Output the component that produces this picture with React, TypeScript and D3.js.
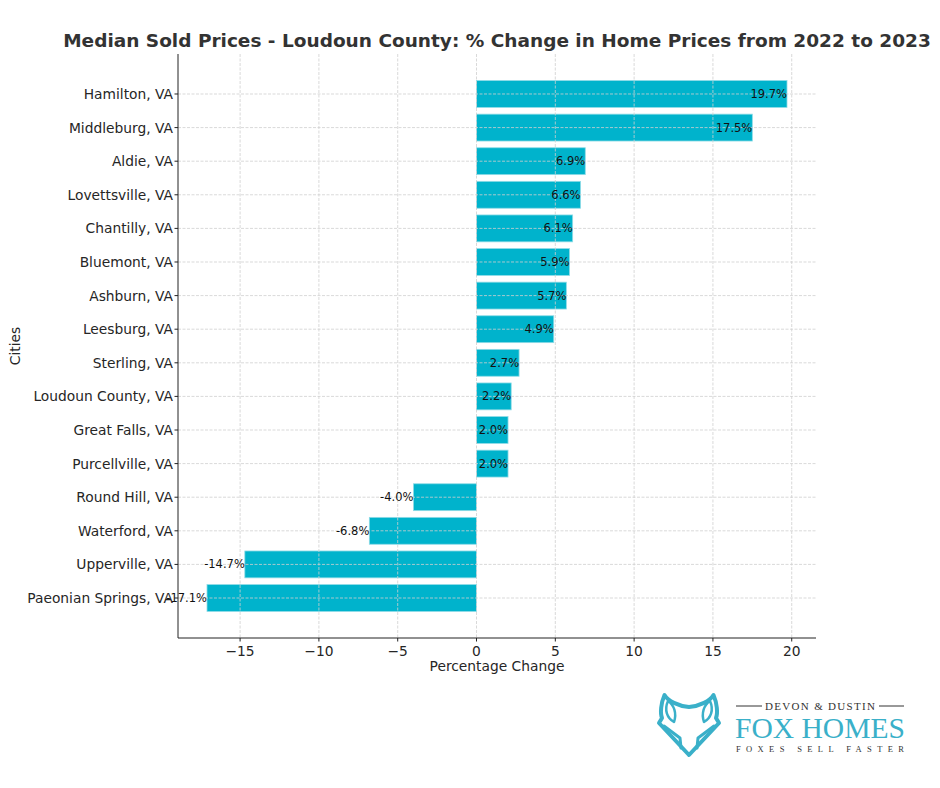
import React from "react";
import * as d3 from "d3";

const cities = [
  "Hamilton, VA", "Middleburg, VA", "Aldie, VA", "Lovettsville, VA", "Chantilly, VA",
  "Bluemont, VA", "Ashburn, VA", "Leesburg, VA", "Sterling, VA", "Loudoun County, VA",
  "Great Falls, VA", "Purcellville, VA", "Round Hill, VA", "Waterford, VA",
  "Upperville, VA", "Paeonian Springs, VA",
];
const changes = [19.7, 17.5, 6.9, 6.6, 6.1, 5.9, 5.7, 4.9, 2.7, 2.2, 2.0, 2.0, -4.0, -6.8, -14.7, -17.1];
const xTicks = [-15, -10, -5, 0, 5, 10, 15, 20];

const W = 940, H = 788;
const left = 178, right = 816, top = 54, bottom = 638;
const font = "'DejaVu Sans', sans-serif";

export default function App() {
  const minV = d3.min(changes)!, maxV = d3.max(changes)!;
  const pad = (maxV - minV) * 0.05;
  const x = d3.scaleLinear().domain([minV - pad, maxV + pad]).range([left, right]);
  const n = cities.length;
  const ypad = (n - 1 + 0.8) * 0.05;
  const y = d3.scaleLinear().domain([-0.4 - ypad, n - 1 + 0.4 + ypad]).range([top, bottom]);
  const barH = y(0.8) - y(0);
  const fmt = (v: number) => (v < 0 ? "\u2212" + Math.abs(v) : String(v));
  const gridStyle = { stroke: "#cfcfcf", strokeWidth: 0.8, strokeDasharray: "3,1.5" };
  const teal = "#3ab0c9";

  return (
    <svg width={W} height={H} style={{ position: "absolute", left: 0, top: 0, background: "#fff" }}>
      <rect width={W} height={H} fill="#fff" />
      <text x={497} y={47} textAnchor="middle" fontFamily={font} fontWeight="bold" fontSize={18.5} fill="#333">
        Median Sold Prices - Loudoun County: % Change in Home Prices from 2022 to 2023
      </text>
      {cities.map((c, i) => (
        <rect key={c} x={x(Math.min(0, changes[i]))} y={y(i) - barH / 2}
          width={Math.abs(x(changes[i]) - x(0))} height={barH}
          fill="#00b3cc" stroke="#8fdbe6" strokeWidth={0.8} />
      ))}
      {xTicks.map((t) => (
        <line key={"gx" + t} x1={x(t)} x2={x(t)} y1={top} y2={bottom} style={gridStyle} />
      ))}
      {cities.map((c, i) => (
        <line key={"gy" + c} x1={left} x2={right} y1={y(i)} y2={y(i)} style={gridStyle} />
      ))}
      {cities.map((c, i) => (
        <text key={"l" + c} x={x(changes[i])} y={y(i) + 4} textAnchor="end" fontFamily={font} fontSize={11.5} fill="#111">
          {changes[i].toFixed(1) + "%"}
        </text>
      ))}
      <line x1={left} x2={left} y1={top} y2={bottom} stroke="#222" strokeWidth={1} />
      <line x1={left} x2={right} y1={bottom} y2={bottom} stroke="#222" strokeWidth={1} />
      {cities.map((c, i) => (
        <g key={"yt" + c}>
          <line x1={left - 3.5} x2={left} y1={y(i)} y2={y(i)} stroke="#222" />
          <text x={left - 5} y={y(i) + 5} textAnchor="end" fontFamily={font} fontSize={13.8} fill="#262626">{c}</text>
        </g>
      ))}
      {xTicks.map((t) => (
        <g key={"xt" + t}>
          <line x1={x(t)} x2={x(t)} y1={bottom} y2={bottom + 3.5} stroke="#222" />
          <text x={x(t)} y={bottom + 18} textAnchor="middle" fontFamily={font} fontSize={13.8} fill="#262626">{fmt(t)}</text>
        </g>
      ))}
      <text x={497} y={671} textAnchor="middle" fontFamily={font} fontSize={13.8} fill="#262626">Percentage Change</text>
      <text transform="translate(20,346) rotate(-90)" textAnchor="middle" fontFamily={font} fontSize={13.8} fill="#262626">Cities</text>

      {/* Logo */}
      <g fill="none" stroke={teal} strokeWidth={4} strokeLinejoin="round" strokeLinecap="round">
        <path d="M664.5,695 C668,701 678,706 689,707 C700,706 710,701 713.5,695 C717,703 718,713 716,718 L719,723 L689,755 L659,723 L662,718 C660,713 661,703 664.5,695 Z" />
        <path d="M668,701 C664,710 667,718 674,722 C677,713 674,705 668,701 Z" strokeWidth={2.5} />
        <path d="M710,701 C714,710 711,718 704,722 C701,713 704,705 710,701 Z" strokeWidth={2.5} />
        <path d="M664,726 L680,738 L681,748" strokeWidth={3} />
        <path d="M714,726 L698,738 L697,748" strokeWidth={3} />
      </g>
      <line x1={736} x2={762} y1={706} y2={706} stroke="#333" strokeWidth={1} />
      <line x1={879} x2={904} y1={706} y2={706} stroke="#333" strokeWidth={1} />
      <text x={820} y={710} textAnchor="middle" fontFamily="'Liberation Serif', serif" fontSize={11} fill="#333" textLength={110} lengthAdjust="spacing">DEVON &amp; DUSTIN</text>
      <text x={820} y={738} textAnchor="middle" fontFamily="'Liberation Serif', serif" fontSize={30} fill={teal} textLength={170} lengthAdjust="spacingAndGlyphs">FOX HOMES</text>
      <text x={820} y={752} textAnchor="middle" fontFamily="'Liberation Serif', serif" fontSize={8.5} fill="#333" textLength={168} lengthAdjust="spacing">FOXES SELL FASTER</text>
    </svg>
  );
}
